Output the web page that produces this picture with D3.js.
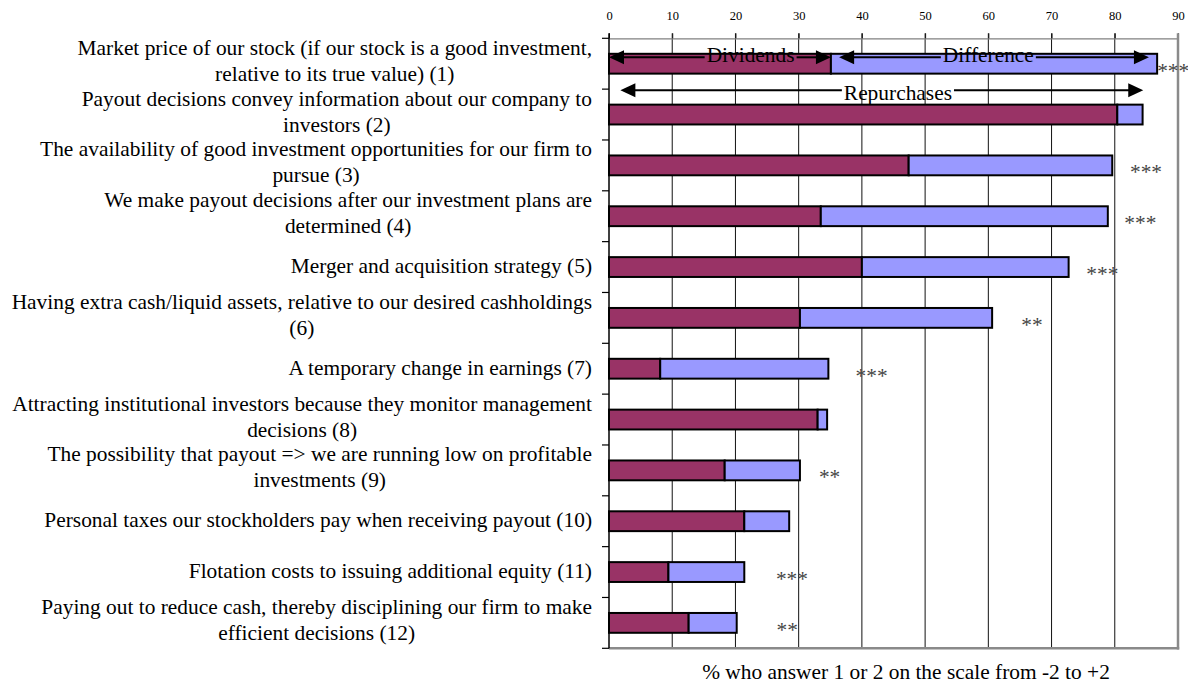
<!DOCTYPE html>
<html>
<head>
<meta charset="utf-8">
<script src="https://cdn.jsdelivr.net/npm/d3@7"></script>
<style>
  body { margin: 0; background: #fff; }
  svg, svg text { font-family: "Liberation Serif", "Times New Roman", "DejaVu Serif", serif; }
</style>
</head>
<body>
<svg id="chart" width="1188" height="684"></svg>
<script>
// each label is kept with the line breaks of the original figure
const categories = [
  ['Market price of our stock (if our stock is a good investment,', 'relative to its true value) (1)'],
  ['Payout decisions convey information about our company to', 'investors (2)'],
  ['The availability of good investment opportunities for our firm to', 'pursue (3)'],
  ['We make payout decisions after our investment plans are', 'determined (4)'],
  ['Merger and acquisition strategy (5)'],
  ['Having extra cash/liquid assets, relative to our desired cashholdings', '(6)'],
  ['A temporary change in earnings (7)'],
  ['Attracting institutional investors because they monitor management', 'decisions (8)'],
  ['The possibility that payout => we are running low on profitable', 'investments (9)'],
  ['Personal taxes our stockholders pay when receiving payout (10)'],
  ['Flotation costs to issuing additional equity (11)'],
  ['Paying out to reduce cash, thereby disciplining our firm to make', 'efficient decisions (12)']
];
const dividends = [35.1, 80.4, 47.4, 33.5, 40.0, 30.2, 8.1, 33.0, 18.3, 21.4, 9.4, 12.6];
const repurchases = [86.7, 84.4, 79.6, 78.9, 72.7, 60.6, 34.7, 34.5, 30.2, 28.5, 21.4, 20.2];
// significance of the difference, and where the stars sit on the value axis
const stars = ['***', '', '***', '***', '***', '**', '***', '', '**', '', '***', '**'];
const starAt = [86.7, null, 82.4, 81.5, 75.5, 65.2, 39.0, null, 33.2, null, 26.4, 26.5];
const xTicks = [0, 10, 20, 30, 40, 50, 60, 70, 80, 90];
const axisTitle = '% who answer 1 or 2 on the scale from -2 to +2';

// arrows drawn over the first bars (value units)
const notes = [
  { text: 'Dividends', from: 0, to: 35.1, at: 22.4, row: 'bar' },
  { text: 'Difference', from: 36.4, to: 85.4, at: 60.0, row: 'bar' },
  { text: 'Repurchases', from: 1.8, to: 84.5, at: 45.7, row: 'gap' }
];

const FONT = '"Liberation Serif", "Times New Roman", "DejaVu Serif", serif';
const FS = 21.4;
const colors = { div: '#993366', diff: '#9999ff' };
const margin = { top: 38.3, left: 609, right: 10, bottom: 35.7 };
const W = 1188, H = 684;

const svg = d3.select('#chart');
svg.append('rect').attr('width', W).attr('height', H).attr('fill', '#fff');

const x = d3.scaleLinear().domain([0, 90]).range([margin.left, W - 10]);
const y = d3.scaleBand().domain(d3.range(categories.length)).range([margin.top, H - margin.bottom]).padding(0);
const barH = y.bandwidth() * 0.39;
const mid = (i) => y(i) + y.bandwidth() / 2;

// vertical gridlines
svg.append('g')
  .selectAll('line')
  .data(xTicks.slice(1, -1))
  .join('line')
  .attr('x1', (d) => x(d)).attr('x2', (d) => x(d))
  .attr('y1', margin.top - 5).attr('y2', H - margin.bottom)
  .attr('stroke', '#111').attr('stroke-width', 1);

// top axis with tick labels
const xAxis = svg.append('g')
  .attr('transform', `translate(0,${margin.top})`)
  .call(d3.axisTop(x).tickValues(xTicks).tickSize(5).tickPadding(13).tickSizeOuter(0));
xAxis.attr('font-family', FONT);
xAxis.select('.domain').attr('stroke', '#808080').attr('stroke-width', 1.2);
xAxis.selectAll('.tick line').attr('stroke', '#111');
xAxis.selectAll('.tick text').attr('font-size', 12.5).attr('font-family', FONT).attr('fill', '#000');

// plot border, right and bottom
svg.append('line')
  .attr('x1', x(90)).attr('x2', x(90))
  .attr('y1', margin.top - 5).attr('y2', H - margin.bottom + 1.2)
  .attr('stroke', '#8a8a8a').attr('stroke-width', 2.5);
svg.append('line')
  .attr('x1', margin.left).attr('x2', x(90) + 1.2)
  .attr('y1', H - margin.bottom).attr('y2', H - margin.bottom)
  .attr('stroke', '#8a8a8a').attr('stroke-width', 2.5);

// left category axis, ticks on the band edges
const edges = d3.range(categories.length + 1).map((i) => margin.top + i * y.step());
svg.append('line')
  .attr('x1', margin.left).attr('x2', margin.left)
  .attr('y1', margin.top - 5).attr('y2', H - margin.bottom)
  .attr('stroke', '#000').attr('stroke-width', 1.5);
svg.append('g')
  .selectAll('line')
  .data(edges)
  .join('line')
  .attr('x1', margin.left - 7).attr('x2', margin.left)
  .attr('y1', (d) => d).attr('y2', (d) => d)
  .attr('stroke', '#000').attr('stroke-width', 1.2);

// bars: dividends, then the difference to repurchases
const rows = categories.map((c, i) => ({ i, div: dividends[i], rep: repurchases[i] }));
const bars = svg.append('g');
bars.selectAll('rect.div')
  .data(rows)
  .join('rect')
  .attr('class', 'div')
  .attr('x', x(0))
  .attr('y', (d) => mid(d.i) - barH / 2)
  .attr('width', (d) => x(d.div) - x(0))
  .attr('height', barH)
  .attr('fill', colors.div)
  .attr('stroke', '#000').attr('stroke-width', 2);
bars.selectAll('rect.diff')
  .data(rows)
  .join('rect')
  .attr('class', 'diff')
  .attr('x', (d) => x(d.div))
  .attr('y', (d) => mid(d.i) - barH / 2)
  .attr('width', (d) => x(d.rep) - x(d.div))
  .attr('height', barH)
  .attr('fill', colors.diff)
  .attr('stroke', '#000').attr('stroke-width', 2);

// significance stars
svg.append('g')
  .selectAll('text')
  .data(rows.filter((d) => stars[d.i]))
  .join('text')
  .attr('x', (d) => x(starAt[d.i]))
  .attr('y', (d) => mid(d.i) + 14)
  .attr('font-family', FONT)
  .attr('font-size', FS)
  .attr('fill', '#444')
  .text((d) => stars[d.i]);

// category labels: block right-aligned, lines centred inside the block
const labelRight = 592;
const lineGap = 26;
categories.forEach((lines, i) => {
  const n = lines.length;
  const g = svg.append('g');
  const texts = lines.map((line, k) => g.append('text')
    .attr('y', mid(i) + 6 + (k - (n - 1) / 2) * lineGap - (n - 1) * 2)
    .attr('font-family', FONT)
    .attr('font-size', FS)
    .attr('text-anchor', 'middle')
    .attr('fill', '#000')
    .text(line));
  const maxW = d3.max(texts, (t) => t.node().getComputedTextLength());
  texts.forEach((t) => t.attr('x', labelRight - maxW / 2));
});

// axis title
svg.append('text')
  .attr('x', 906).attr('y', 679)
  .attr('font-family', FONT)
  .attr('font-size', FS)
  .attr('text-anchor', 'middle')
  .text(axisTitle);

// double-headed arrows with a label breaking the shaft
function head(g, tipX, yy, dir) {
  const len = 15, half = 7;
  g.append('path')
    .attr('d', `M${tipX},${yy}L${tipX + dir * len},${yy - half}L${tipX + dir * len},${yy + half}Z`)
    .attr('fill', '#000');
}
const ann = svg.append('g');
notes.forEach((n) => {
  const yy = n.row === 'bar' ? mid(0) - barH / 2 + 3.5 : y(1) + 1;
  const base = n.row === 'bar' ? 62 : y(1) + 11;
  const t = ann.append('text')
    .attr('x', x(n.at)).attr('y', base)
    .attr('font-family', FONT)
    .attr('font-size', FS)
    .attr('text-anchor', 'middle')
    .text(n.text);
  const bb = t.node().getBBox();
  ann.append('line')
    .attr('x1', x(n.from) + 10).attr('x2', bb.x - 2)
    .attr('y1', yy).attr('y2', yy)
    .attr('stroke', '#000').attr('stroke-width', 2);
  ann.append('line')
    .attr('x1', bb.x + bb.width + 2).attr('x2', x(n.to) - 10)
    .attr('y1', yy).attr('y2', yy)
    .attr('stroke', '#000').attr('stroke-width', 2);
  head(ann, x(n.from), yy, 1);
  head(ann, x(n.to), yy, -1);
});
</script>
</body>
</html>
